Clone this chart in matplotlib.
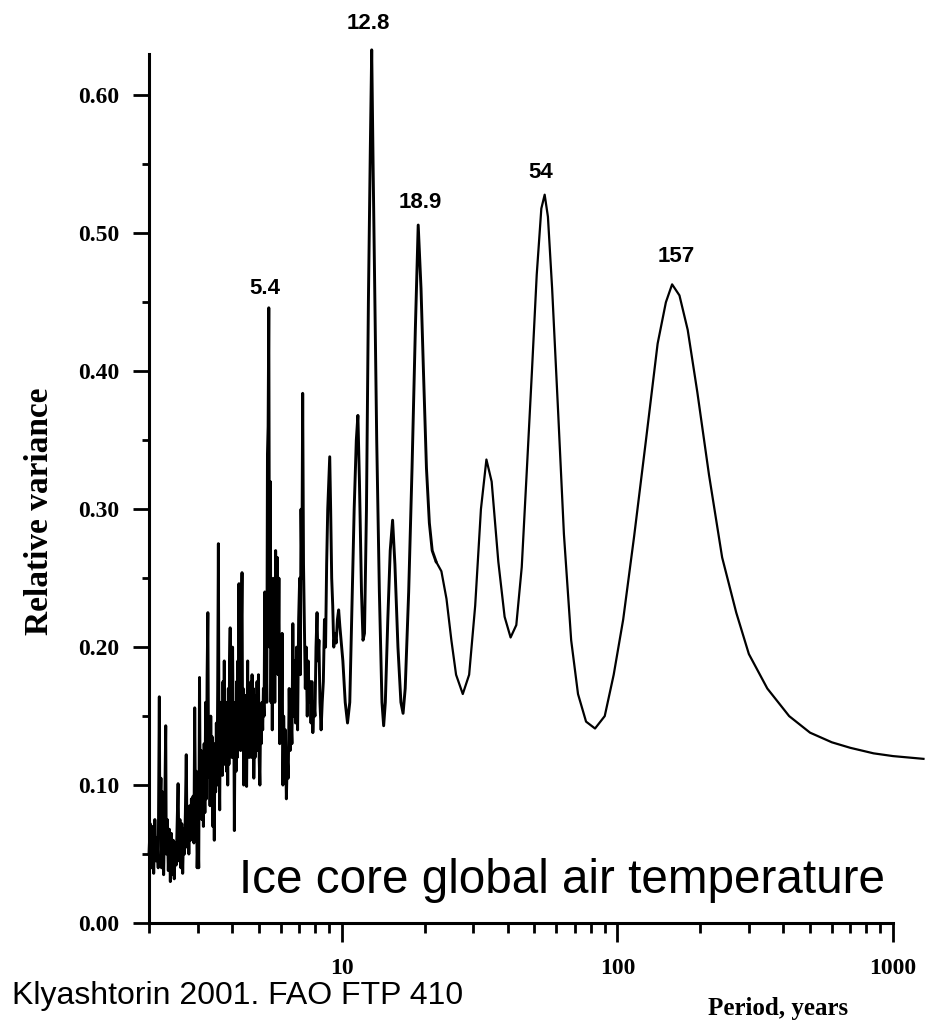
import matplotlib
matplotlib.use("Agg")
import matplotlib.pyplot as plt
from matplotlib.font_manager import FontProperties
from matplotlib.ticker import FixedLocator, NullFormatter

# noisy short-period part of the spectrum: (period, years ; relative variance)
noisy = [
    (2.00, 0.050), (2.02, 0.072), (2.04, 0.040), (2.06, 0.070), (2.08, 0.036),
    (2.10, 0.075), (2.12, 0.045), (2.14, 0.062), (2.16, 0.040), (2.18, 0.164),
    (2.19, 0.070), (2.21, 0.105), (2.22, 0.040), (2.24, 0.095), (2.26, 0.035),
    (2.28, 0.080), (2.30, 0.143), (2.31, 0.050), (2.33, 0.075), (2.35, 0.038),
    (2.37, 0.068), (2.39, 0.030), (2.41, 0.065), (2.43, 0.035), (2.45, 0.060),
    (2.47, 0.032), (2.49, 0.058), (2.51, 0.042), (2.53, 0.070), (2.55, 0.101),
    (2.57, 0.045), (2.59, 0.075), (2.61, 0.040), (2.63, 0.072), (2.65, 0.036),
    (2.67, 0.068), (2.69, 0.050), (2.71, 0.080), (2.73, 0.122), (2.75, 0.055),
    (2.77, 0.082), (2.79, 0.050), (2.81, 0.085), (2.83, 0.060), (2.85, 0.090),
    (2.87, 0.062), (2.89, 0.092), (2.91, 0.058), (2.93, 0.156), (2.95, 0.075),
    (2.97, 0.110), (2.99, 0.040), (3.01, 0.065), (3.03, 0.040), (3.05, 0.178),
    (3.07, 0.080), (3.09, 0.125), (3.11, 0.075), (3.13, 0.120), (3.15, 0.070),
    (3.17, 0.130), (3.19, 0.080), (3.21, 0.160), (3.23, 0.090), (3.25, 0.180),
    (3.27, 0.225), (3.29, 0.106), (3.31, 0.140), (3.33, 0.085), (3.35, 0.150),
    (3.37, 0.095), (3.39, 0.135), (3.41, 0.070), (3.43, 0.120), (3.45, 0.060),
    (3.47, 0.130), (3.49, 0.095), (3.51, 0.145), (3.53, 0.100), (3.55, 0.170),
    (3.57, 0.275), (3.59, 0.120), (3.61, 0.082), (3.63, 0.160), (3.65, 0.110),
    (3.67, 0.150), (3.69, 0.107), (3.71, 0.175), (3.73, 0.120), (3.75, 0.190),
    (3.77, 0.115), (3.80, 0.160), (3.82, 0.110), (3.84, 0.150), (3.86, 0.100),
    (3.88, 0.170), (3.90, 0.115), (3.92, 0.190), (3.94, 0.214), (3.96, 0.130),
    (3.98, 0.175), (4.00, 0.120), (4.02, 0.200), (4.04, 0.140), (4.06, 0.160),
    (4.08, 0.067), (4.10, 0.130), (4.12, 0.150), (4.14, 0.110), (4.16, 0.175),
    (4.18, 0.120), (4.20, 0.190), (4.22, 0.130), (4.24, 0.246), (4.26, 0.140),
    (4.28, 0.170), (4.30, 0.125), (4.32, 0.200), (4.35, 0.254), (4.37, 0.140),
    (4.39, 0.170), (4.41, 0.100), (4.43, 0.150), (4.45, 0.120), (4.47, 0.165),
    (4.49, 0.115), (4.52, 0.099), (4.54, 0.150), (4.56, 0.190), (4.58, 0.130),
    (4.60, 0.170), (4.62, 0.120), (4.64, 0.160), (4.66, 0.130), (4.69, 0.175),
    (4.71, 0.120), (4.73, 0.180), (4.75, 0.130), (4.78, 0.170), (4.80, 0.105),
    (4.83, 0.150), (4.85, 0.120), (4.88, 0.165), (4.90, 0.130), (4.93, 0.175),
    (4.96, 0.125), (4.99, 0.180), (5.02, 0.120), (5.05, 0.100), (5.08, 0.150),
    (5.11, 0.130), (5.14, 0.160), (5.17, 0.140), (5.20, 0.170), (5.23, 0.150),
    (5.26, 0.240), (5.29, 0.170), (5.32, 0.200), (5.35, 0.160), (5.38, 0.340),
    (5.41, 0.360), (5.44, 0.446), (5.46, 0.300), (5.48, 0.200), (5.51, 0.320),
    (5.54, 0.160), (5.57, 0.250), (5.60, 0.140), (5.63, 0.230), (5.66, 0.170),
    (5.69, 0.250), (5.72, 0.160), (5.76, 0.270), (5.80, 0.200), (5.84, 0.265),
    (5.88, 0.180), (5.92, 0.250), (5.96, 0.130), (6.00, 0.200), (6.04, 0.140),
    (6.08, 0.210), (6.12, 0.100), (6.16, 0.150), (6.20, 0.120), (6.25, 0.140),
    (6.30, 0.090), (6.35, 0.120), (6.40, 0.105), (6.45, 0.170), (6.50, 0.125),
    (6.55, 0.150), (6.60, 0.130), (6.65, 0.217), (6.70, 0.150), (6.75, 0.190),
    (6.80, 0.145), (6.86, 0.200), (6.92, 0.140), (6.98, 0.220), (7.04, 0.250),
    (7.08, 0.180), (7.12, 0.300), (7.17, 0.250), (7.22, 0.384), (7.27, 0.260),
    (7.32, 0.220), (7.38, 0.170), (7.44, 0.200), (7.50, 0.150), (7.56, 0.190),
    (7.62, 0.160), (7.68, 0.175), (7.74, 0.145), (7.80, 0.175), (7.86, 0.138),
    (7.93, 0.160), (8.00, 0.150), (8.07, 0.200), (8.14, 0.225), (8.20, 0.190),
    (8.27, 0.205), (8.34, 0.160), (8.42, 0.140), (8.50, 0.160), (8.58, 0.175),
    (8.66, 0.220), (8.74, 0.200), (8.82, 0.260), (8.90, 0.300), (8.98, 0.320),
    (9.05, 0.338), (9.12, 0.300), (9.20, 0.250), (9.28, 0.230), (9.36, 0.200),
    (9.45, 0.210), (9.55, 0.203), (9.65, 0.220), (9.75, 0.227), (9.85, 0.215),
    (9.95, 0.205), (10.1, 0.190), (10.3, 0.160), (10.5, 0.145), (10.7, 0.160),
    (10.9, 0.230), (11.1, 0.300), (11.3, 0.350), (11.45, 0.368), (11.6, 0.320),
    (11.8, 0.240), (11.95, 0.205), (12.1, 0.210), (12.3, 0.300), (12.5, 0.450),
    (12.7, 0.560), (12.85, 0.633), (13.0, 0.550), (13.2, 0.450), (13.4, 0.350),
    (13.7, 0.240), (14.0, 0.160), (14.2, 0.143), (14.4, 0.160), (14.7, 0.220),
    (15.0, 0.270), (15.3, 0.292), (15.6, 0.260), (16.0, 0.200), (16.4, 0.160),
    (16.7, 0.152), (17.0, 0.170), (17.5, 0.240), (18.0, 0.330), (18.5, 0.430),
    (18.95, 0.506), (19.4, 0.460), (19.8, 0.400), (20.3, 0.330), (20.8, 0.290),
    (21.3, 0.270),
]

# smooth long-period part
period_smooth = [
    22.0, 23.0, 24.0, 25.0, 26.0, 27.5, 29.0, 30.5, 32.0, 33.5,
    35.0, 37.0, 39.0, 41.0, 43.0, 45.0, 47.0, 49.0, 51.0, 53.0,
    54.5, 56.0, 58.0, 61.0, 64.0, 68.0, 72.0, 77.0, 83.0, 90.0,
    97.0, 105.0, 115.0, 127.0, 140.0, 150.0, 158.0, 168.0, 180.0, 195.0,
    215.0, 240.0, 270.0, 300.0, 350.0, 420.0, 500.0, 600.0, 700.0, 850.0,
    1000.0, 1290.0,
]
variance_smooth = [
    0.262, 0.255, 0.235, 0.205, 0.180, 0.166, 0.180, 0.230, 0.300, 0.336,
    0.320, 0.262, 0.222, 0.207, 0.216, 0.258, 0.330, 0.400, 0.470, 0.518,
    0.528, 0.512, 0.460, 0.370, 0.282, 0.205, 0.166, 0.146, 0.141, 0.150,
    0.180, 0.220, 0.280, 0.350, 0.420, 0.450, 0.463, 0.455, 0.430, 0.385,
    0.325, 0.265, 0.225, 0.195, 0.170, 0.150, 0.138, 0.131, 0.127, 0.123,
    0.121, 0.119,
]

peak_labels = ["5.4", "12.8", "18.9", "54", "157"]
peak_label_x = [5.27, 12.5, 19.3, 52.8, 163.0]
peak_label_y = [0.460, 0.652, 0.522, 0.544, 0.483]

y_ticks = [0.0, 0.1, 0.2, 0.3, 0.4, 0.5, 0.6]
y_minor = [0.05, 0.15, 0.25, 0.35, 0.45, 0.55]
x_ticks = [10, 100, 1000]
x_minor = [2, 3, 4, 5, 6, 7, 8, 9, 20, 30, 40, 50, 60, 70, 80, 90,
           200, 300, 400, 500, 600, 700, 800, 900]

period_noisy = [p for p, v in noisy]
variance_noisy = [v for p, v in noisy]

fig = plt.figure(figsize=(9.26, 10.25), dpi=100)
ax = fig.add_axes([149 / 926, 1 - 923 / 1025, 744 / 926, 869 / 1025])

ax.plot(period_noisy + period_smooth[:1], variance_noisy + variance_smooth[:1],
        color="black", lw=2.1, clip_on=False)
ax.plot(period_smooth, variance_smooth, color="black", lw=1.6, clip_on=False)

ax.set_xscale("log")
ax.set_xlim(2, 1000)
ax.set_ylim(0, 0.63)

ax.xaxis.set_major_locator(FixedLocator(x_ticks))
ax.xaxis.set_minor_locator(FixedLocator(x_minor))
ax.xaxis.set_minor_formatter(NullFormatter())
ax.set_xticklabels([str(t) for t in x_ticks])
ax.yaxis.set_major_locator(FixedLocator(y_ticks))
ax.yaxis.set_minor_locator(FixedLocator(y_minor))
ax.set_yticklabels(["%.2f" % t for t in y_ticks])

for s in ["top", "right"]:
    ax.spines[s].set_visible(False)
for s in ["left", "bottom"]:
    ax.spines[s].set_linewidth(2.2)

ax.tick_params(axis="y", which="major", length=11.5, width=2, pad=10)
ax.tick_params(axis="y", which="minor", length=5, width=2)
ax.tick_params(axis="x", which="major", length=13.5, width=2, pad=12)
ax.tick_params(axis="x", which="minor", length=7, width=2)

tick_font = FontProperties(family="Liberation Serif", weight="bold", size=17)
for lab in ax.get_xticklabels() + ax.get_yticklabels():
    lab.set_fontproperties(tick_font)

for txt, px, py in zip(peak_labels, peak_label_x, peak_label_y):
    ax.text(px, py, txt, ha="center", va="center", family="Liberation Sans",
            weight="bold", size=16, clip_on=False)

fig.text(40 / 926, 1 - 511 / 1025, "Relative variance", rotation=90,
         ha="center", va="center", family="Liberation Serif", weight="bold", size=24)
fig.text(778 / 926, 1 - 1008 / 1025, "Period, years", ha="center", va="center",
         family="Liberation Serif", weight="bold", size=18)
fig.text(885 / 926, 1 - 893 / 1025, "Ice core global air temperature",
         ha="right", va="baseline", family="Liberation Sans", size=34.3)
fig.text(12 / 926, 1 - 1004 / 1025, "Klyashtorin 2001. FAO FTP 410",
         ha="left", va="baseline", family="Liberation Sans", size=23)

fig.savefig("out.png", dpi=100)
